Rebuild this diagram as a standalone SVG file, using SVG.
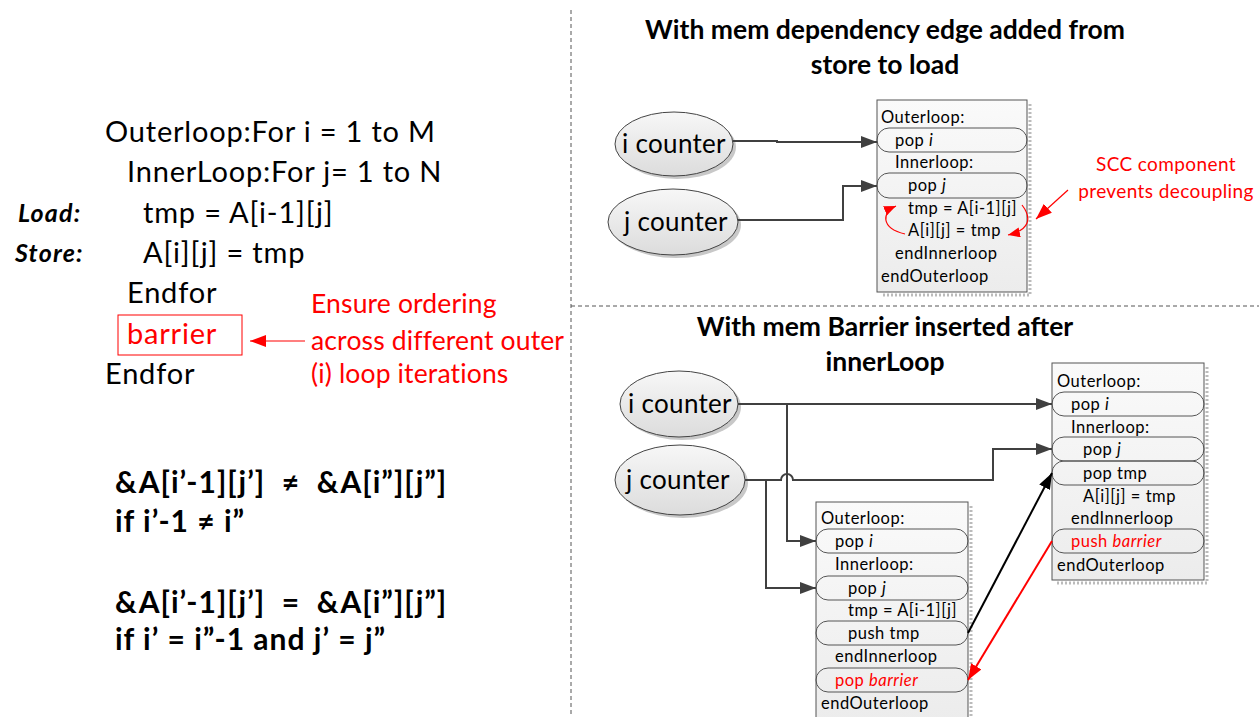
<svg xmlns="http://www.w3.org/2000/svg" width="1259" height="717" viewBox="0 0 1259 717">
<defs>
<linearGradient id="gEll" x1="0" y1="0" x2="0" y2="1"><stop offset="0" stop-color="#f7f7f7"/><stop offset="1" stop-color="#dcdcdc"/></linearGradient>
<linearGradient id="gBox" x1="0" y1="0" x2="0" y2="1"><stop offset="0" stop-color="#fafafa"/><stop offset="1" stop-color="#ececec"/></linearGradient>
<marker id="ahG" viewBox="0 0 16 12" refX="16" refY="6" markerWidth="16" markerHeight="12" markerUnits="userSpaceOnUse" orient="auto"><path d="M0,0 L16,6 L0,12 z" fill="#404040"/></marker>
<marker id="ahK" viewBox="0 0 16 12" refX="16" refY="6" markerWidth="16" markerHeight="12" markerUnits="userSpaceOnUse" orient="auto"><path d="M0,0 L16,6 L0,12 z" fill="#000"/></marker>
<marker id="ahR" viewBox="0 0 16 12" refX="16" refY="6" markerWidth="16" markerHeight="12" markerUnits="userSpaceOnUse" orient="auto"><path d="M0,0 L16,6 L0,12 z" fill="#f00"/></marker>
<marker id="ahRs" viewBox="0 0 12 10" refX="12" refY="5" markerWidth="12" markerHeight="10" markerUnits="userSpaceOnUse" orient="auto"><path d="M0,0 L12,5 L0,10 z" fill="#f00"/></marker>
</defs>
<style>
text{font-family:Lato,"Open Sans","Liberation Sans",sans-serif;}
.code{font-size:29px;letter-spacing:0.8px;fill:#000;}
.lbl{font-size:25px;letter-spacing:1.2px;font-weight:bold;font-style:italic;fill:#000;}
.note{font-size:26.5px;letter-spacing:0.15px;fill:#f00;}
.eq{font-size:30px;letter-spacing:1px;font-weight:bold;fill:#000;white-space:pre;}
.title{font-size:26.5px;font-weight:bold;fill:#000;text-anchor:middle;}
.ell{fill:url(#gEll);stroke:#444;stroke-width:1;}
.eshadow{fill:#c8c8c8;}
.etext{font-size:26px;letter-spacing:0.3px;fill:#000;text-anchor:middle;}
.box{fill:url(#gBox);stroke:#555;stroke-width:1;}
.bshadow{fill:none;stroke:#bbb;stroke-width:3;stroke-dasharray:2 2;}
.pill{fill:none;stroke:#555;stroke-width:1;}
.bt{font-size:16.5px;letter-spacing:0.5px;fill:#000;}
.bt.red,.code.red{fill:#f00;}
.scc{font-size:19px;letter-spacing:0.4px;fill:#f00;text-anchor:middle;}
.conn{fill:none;stroke:#404040;stroke-width:2;}
.div{fill:none;stroke:#555;stroke-width:1;stroke-dasharray:4 3;}
</style>

<g id="dividers">
<line class="div" x1="571" y1="10" x2="571" y2="717"/>
<line class="div" x1="571" y1="306" x2="1259" y2="306"/>
</g>

<g id="code">
<text class="code" x="105" y="142">Outerloop:For i = 1 to M</text>
<text class="code" x="127" y="182">InnerLoop:For j= 1 to N</text>
<text class="lbl" x="18" y="222">Load:</text>
<text class="code" x="143" y="223">tmp = A[i-1][j]</text>
<text class="lbl" x="15" y="262">Store:</text>
<text class="code" x="143" y="263">A[i][j] = tmp</text>
<text class="code" x="127" y="303">Endfor</text>
<text class="code" x="105" y="384">Endfor</text>
</g>

<g id="barrier">
<rect x="118" y="315" width="124" height="40" fill="none" stroke="#f00" stroke-width="1"/>
<text class="code red" x="127" y="344">barrier</text>
</g>

<g id="ensure-note">
<text class="note" x="311" y="313">Ensure ordering</text>
<text class="note" x="311" y="350">across different outer</text>
<text class="note" x="311" y="383">(i) loop iterations</text>
</g>

<g id="equations">
<text class="eq" x="115" y="493" xml:space="preserve">&amp;A[i’-1][j’]  ≠  &amp;A[i”][j”]</text>
<text class="eq" x="115" y="532">if i’-1 ≠ i”</text>
<text class="eq" x="115" y="613" xml:space="preserve">&amp;A[i’-1][j’]  =  &amp;A[i”][j”]</text>
<text class="eq" x="115" y="650">if i’ = i”-1 and j’ = j”</text>
</g>

<g id="titles">
<text class="title" x="885" y="39">With mem dependency edge added from</text>
<text class="title" x="885" y="74">store to load</text>
<text class="title" x="885" y="336">With mem Barrier inserted after</text>
<text class="title" x="885" y="371">innerLoop</text>
</g>

<g id="top-i-counter">
<ellipse class="eshadow" cx="677" cy="147" rx="59" ry="32"/>
<ellipse class="ell" cx="674" cy="144" rx="59" ry="32"/>
<text class="etext" x="674" y="153">i counter</text>
</g>
<g id="top-j-counter">
<ellipse class="eshadow" cx="676" cy="225" rx="65" ry="33"/>
<ellipse class="ell" cx="673" cy="222" rx="65" ry="33"/>
<text class="etext" x="676" y="231">j counter</text>
</g>

<g id="top-box">
<path class="bshadow" d="M1030,104 V295 H881"/>
<rect class="box" x="877" y="100" width="150" height="192"/>
<rect class="pill" x="877" y="128" width="150" height="24" rx="12"/>
<rect class="pill" x="877" y="173" width="150" height="25" rx="12"/>
<text class="bt" x="881" y="123">Outerloop:</text>
<text class="bt" x="895" y="146">pop <tspan font-style="italic">i</tspan></text>
<text class="bt" x="895" y="168">Innerloop:</text>
<text class="bt" x="908" y="191">pop <tspan font-style="italic">j</tspan></text>
<text class="bt" x="908" y="214">tmp = A[i-1][j]</text>
<text class="bt" x="908" y="236">A[i][j] = tmp</text>
<text class="bt" x="895" y="259">endInnerloop</text>
<text class="bt" x="881" y="282">endOuterloop</text>
</g>

<g id="top-scc-note">
<text class="scc" x="1166" y="171">SCC component</text>
<text class="scc" x="1166" y="198">prevents decoupling</text>
</g>

<g id="bot-i-counter">
<ellipse class="eshadow" cx="682" cy="407" rx="59" ry="33"/>
<ellipse class="ell" cx="679" cy="404" rx="59" ry="33"/>
<text class="etext" x="680" y="413">i counter</text>
</g>
<g id="bot-j-counter">
<ellipse class="eshadow" cx="683" cy="483" rx="65" ry="35"/>
<ellipse class="ell" cx="680" cy="480" rx="65" ry="35"/>
<text class="etext" x="678" y="489">j counter</text>
</g>

<g id="box-consumer">
<path class="bshadow" d="M1207,367 V583 H1056"/>
<rect class="box" x="1052" y="363" width="152" height="217"/>
<rect class="pill" x="1052" y="392" width="152" height="24" rx="12"/>
<rect class="pill" x="1052" y="437" width="152" height="24" rx="12"/>
<rect class="pill" x="1052" y="461" width="152" height="24" rx="12"/>
<rect class="pill" x="1052" y="529" width="152" height="24" rx="12"/>
<text class="bt" x="1057" y="387">Outerloop:</text>
<text class="bt" x="1071" y="410">pop <tspan font-style="italic">i</tspan></text>
<text class="bt" x="1071" y="433">Innerloop:</text>
<text class="bt" x="1083" y="455">pop <tspan font-style="italic">j</tspan></text>
<text class="bt" x="1083" y="479">pop tmp</text>
<text class="bt" x="1083" y="502">A[i][j] = tmp</text>
<text class="bt" x="1071" y="524">endInnerloop</text>
<text class="bt red" x="1071" y="547">push <tspan font-style="italic">barrier</tspan></text>
<text class="bt" x="1057" y="571">endOuterloop</text>
</g>

<g id="box-producer">
<path class="bshadow" d="M971,506 V717"/>
<rect class="box" x="816" y="502" width="152" height="220"/>
<rect class="pill" x="816" y="529" width="152" height="24" rx="12"/>
<rect class="pill" x="816" y="576" width="152" height="24" rx="12"/>
<rect class="pill" x="816" y="621" width="152" height="24" rx="12"/>
<rect class="pill" x="816" y="668" width="152" height="24" rx="12"/>
<text class="bt" x="821" y="524">Outerloop:</text>
<text class="bt" x="835" y="547">pop <tspan font-style="italic">i</tspan></text>
<text class="bt" x="835" y="570">Innerloop:</text>
<text class="bt" x="848" y="594">pop <tspan font-style="italic">j</tspan></text>
<text class="bt" x="848" y="616">tmp = A[i-1][j]</text>
<text class="bt" x="848" y="639">push tmp</text>
<text class="bt" x="835" y="662">endInnerloop</text>
<text class="bt red" x="835" y="686">pop <tspan font-style="italic">barrier</tspan></text>
<text class="bt" x="821" y="709">endOuterloop</text>
</g>

<g id="connectors">
<path class="conn" marker-end="url(#ahG)" d="M733,141 H777 V142 H877"/>
<path class="conn" marker-end="url(#ahG)" d="M738,220 H843 V186 H877"/>
<path fill="none" stroke="#f00" stroke-width="1.2" marker-end="url(#ahRs)" d="M905,234 C880,228 882,212 896,206"/>
<path fill="none" stroke="#f00" stroke-width="1.2" marker-end="url(#ahRs)" d="M1022,205 C1032,218 1030,230 1008,235"/>
<line stroke="#f00" stroke-width="1.2" marker-end="url(#ahR)" x1="1068" y1="190" x2="1036" y2="219"/>
<line stroke="#f00" stroke-width="1.2" marker-end="url(#ahR)" x1="305" y1="341" x2="250" y2="341"/>

<path class="conn" marker-end="url(#ahG)" d="M738,404 H1052"/>
<path class="conn" marker-end="url(#ahG)" d="M787,404 V541 H816"/>
<path class="conn" marker-end="url(#ahG)" d="M745,480 H781 A6,6 0 0 1 793,480 H993 V449 H1052"/>
<path class="conn" marker-end="url(#ahG)" d="M766,480 V588 H816"/>
<line stroke="#000" stroke-width="2" marker-end="url(#ahK)" x1="968" y1="633" x2="1052" y2="473"/>
<line stroke="#f00" stroke-width="2" marker-end="url(#ahR)" x1="1052" y1="541" x2="968" y2="680"/>
</g>
</svg>
